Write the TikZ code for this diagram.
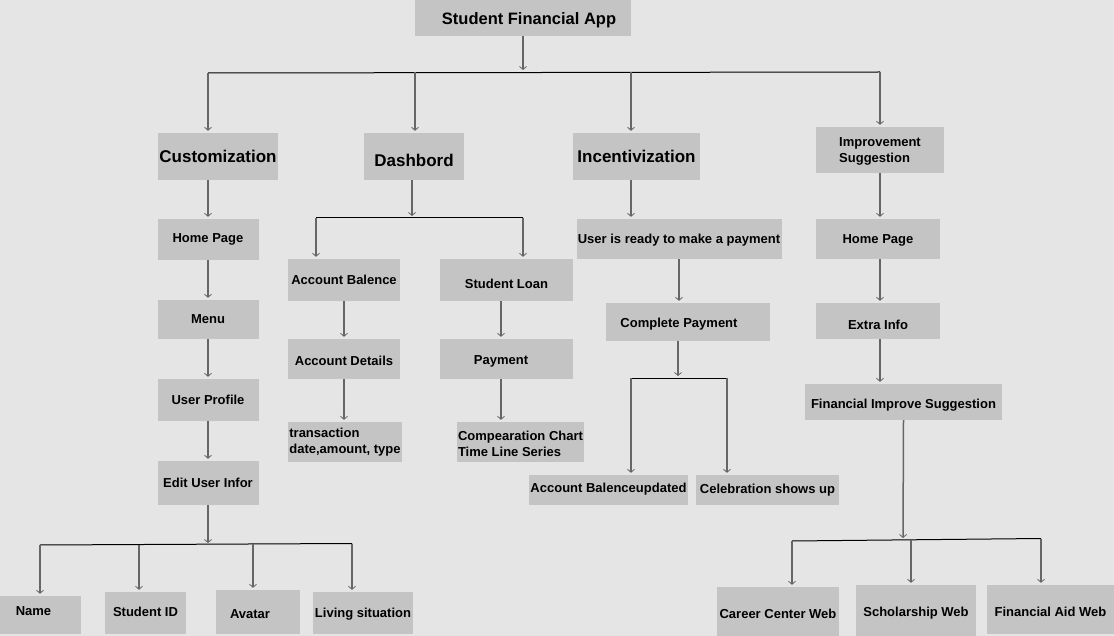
\documentclass[tikz,border=0pt]{standalone}
\usepackage{fontspec}
\setmainfont{Liberation Sans}
\usetikzlibrary{arrows.meta}
\definecolor{bgc}{HTML}{E5E5E5}
\definecolor{boxc}{HTML}{C4C4C4}
\definecolor{linec}{HTML}{666666}
\newcommand\smallf{\fontsize{13}{16}\selectfont\bfseries}
\newcommand\bigf{\fontsize{17}{20}\selectfont\bfseries}
% lower a text by #1 without changing its reported size
\newcommand\dn[2]{\raisebox{-#1}[\height][\depth]{#2}}
\tikzset{
  box/.style={fill=boxc, inner sep=0pt, align=center, font=\smallf, text=black},
  bigbox/.style={box, font=\bigf},
  vl/.style={draw=linec, line width=1.5pt, -{Straight Barb[length=3pt,width=7pt,line width=0.8pt]}, shorten >=2pt},
  hl/.style={draw=black, line width=1pt},
}
\begin{document}
\begin{tikzpicture}[x=1pt,y=-1pt]
\fill[bgc] (0,0) rectangle (1114,636);
\useasboundingbox (0,0) rectangle (1114,636);

% top
\node[box, font=\fontsize{16.5}{20}\selectfont\bfseries, minimum width=216, minimum height=36] (app) at (523,18) {\dn{2pt}{\hspace{12pt}Student Financial App}};
\node[bigbox, minimum width=120, minimum height=47] (cust) at (218,156.5) {Customization};
\node[bigbox, minimum width=100, minimum height=47] (dash) at (414,156.5) {\dn{4pt}{Dashbord}};
\node[bigbox, minimum width=127, minimum height=47] (inc) at (636.5,156.5) {Incentivization};
\node[box, minimum width=128, minimum height=46, align=left] (imp) at (880,150) {\dn{1pt}{Improvement}\\\dn{1pt}{Suggestion}};

% customization column
\node[box, minimum width=101, minimum height=41] (home1) at (208,239.5) {Home Page};
\node[box, minimum width=101, minimum height=39] (menu) at (208,319.5) {Menu};
\node[box, minimum width=101, minimum height=42] (prof) at (208,400) {User Profile};
\node[box, minimum width=101, minimum height=44] (edit) at (208,483) {Edit User Infor};
\node[box, minimum width=81, minimum height=38] (name) at (40.5,615) {\dn{-4pt}{\hspace{-14pt}Name}};
\node[box, minimum width=81, minimum height=42] (sid) at (145.5,613) {\dn{-1pt}{Student ID}};
\node[box, minimum width=84, minimum height=44] (avatar) at (258,612) {\dn{2pt}{\hspace{-16pt}Avatar}};
\node[box, minimum width=100, minimum height=42] (living) at (363,613) {\dn{1pt}{Living situation}};

% dashboard column
\node[box, minimum width=112, minimum height=42] (accb) at (344,280) {Account Balence};
\node[box, minimum width=112, minimum height=40] (accd) at (344,359) {\dn{2pt}{Account Details}};
\node[box, minimum width=114, minimum height=40, align=left] (trans) at (345,442) {transaction\\date,amount, type};
\node[box, minimum width=133, minimum height=42] (loan) at (506.5,280) {\dn{4pt}{Student Loan}};
\node[box, minimum width=133, minimum height=40] (pay) at (506.5,359) {\dn{2pt}{\hspace{-11pt}Payment}};
\node[box, minimum width=127, minimum height=40, align=left] (comp) at (520.5,442) {\dn{1.5pt}{Compearation Chart}\\\dn{1.5pt}{Time Line Series}};

% incentivization column
\node[box, minimum width=205, minimum height=40] (ready) at (679,239) {\dn{1pt}{User is ready to make a payment}};
\node[box, minimum width=164, minimum height=38] (cpay) at (688,322) {\dn{2pt}{\hspace{-18pt}Complete Payment}};
\node[box, minimum width=159, minimum height=30] (abu) at (608.5,490) {\dn{-1pt}{Account Balenceupdated}};
\node[box, minimum width=143, minimum height=30] (cel) at (767.5,490) {Celebration shows up};

% improvement column
\node[box, minimum width=124, minimum height=40] (home2) at (878,239) {\dn{1pt}{Home Page}};
\node[box, minimum width=124, minimum height=36] (extra) at (878,321) {\dn{4pt}{Extra Info}};
\node[box, minimum width=197, minimum height=36] (fis) at (903.5,402) {\dn{3pt}{Financial Improve Suggestion}};
\node[box, minimum width=122, minimum height=49] (career) at (778,611.5) {\dn{2pt}{Career Center Web}};
\node[box, minimum width=120, minimum height=51] (schol) at (916,610.5) {\dn{3pt}{Scholarship Web}};
\node[box, minimum width=127, minimum height=49] (faid) at (1050.5,609.5) {\dn{2pt}{Financial Aid Web}};

% coordinates for buses
\coordinate (tb) at (523,72);
\coordinate (t1) at (208,73);
\coordinate (t2) at (415,72.5);
\coordinate (t3) at (631,72.3);
\coordinate (t4) at (880,72);
\coordinate (eb) at (208,545);
\coordinate (e1) at (40,545);
\coordinate (e2) at (139,544.5);
\coordinate (e3) at (253,544);
\coordinate (e4) at (352,543.5);
\coordinate (db) at (412,218);
\coordinate (d1) at (316,218);
\coordinate (d2) at (523,218);
\coordinate (cb) at (678,378);
\coordinate (c1) at (631,378);
\coordinate (c2) at (727,378);
\coordinate (fb) at (903,540);
\coordinate (f1) at (792,541);
\coordinate (f2) at (911,540);
\coordinate (f3) at (1041,538.5);

% top level
\draw[vl] (app.south) -- (tb);
\draw[hl] (t1) -- (t4);
\draw[vl] (t1) -- (t1 |- cust.north);
\draw[vl] (t2) -- (t2 |- dash.north);
\draw[vl] (t3) -- (t3 |- inc.north);
\draw[vl] (t4) -- (t4 |- imp.north);

% customization
\draw[vl] (home1.north |- cust.south) -- (home1.north);
\draw[vl] (home1.south) -- (menu.north);
\draw[vl] (menu.south) -- (prof.north);
\draw[vl] (prof.south) -- (edit.north);
\draw[vl] (edit.south) -- (eb);
\draw[hl] (e1) -- (e4);
\draw[vl] (e1) -- (e1 |- name.north);
\draw[vl] (e2) -- (e2 |- sid.north);
\draw[vl] (e3) -- (e3 |- avatar.north);
\draw[vl] (e4) -- (e4 |- living.north);

% dashboard
\draw[vl] (db |- dash.south) -- (db);
\draw[hl] (d1) -- (d2);
\draw[vl] (d1) -- (d1 |- accb.north);
\draw[vl] (d2) -- (d2 |- loan.north);
\draw[vl] (accb.south) -- (accd.north);
\draw[vl] (accd.south) -- (accd.south |- trans.north);
\draw[vl] ([xshift=-5.5pt]loan.south) -- ([xshift=-5.5pt]pay.north);
\draw[vl] ([xshift=-5.5pt]pay.south) -- ([xshift=-5.5pt]pay.south |- comp.north);

% incentivization
\draw[vl] ([xshift=-5.5pt]inc.south) -- ([xshift=-5.5pt]inc.south |- ready.north);
\draw[vl] (ready.south) -- (ready.south |- cpay.north);
\draw[vl] (cb |- cpay.south) -- (cb);
\draw[hl] (c1) -- (c2);
\draw[vl] (c1) -- (c1 |- abu.north);
\draw[vl] (c2) -- (c2 |- cel.north);

% improvement
\draw[vl] (imp.south) -- (imp.south |- home2.north);
\draw[vl] ([xshift=2pt]home2.south) -- ([xshift=2pt]extra.north);
\draw[vl] ([xshift=2pt]extra.south) -- ([xshift=2pt]extra.south |- fis.north);
\draw[vl] (fis.south) -- (fb);
\draw[hl] (f1) -- (f3);
\draw[vl] (f1) -- (f1 |- career.north);
\draw[vl] (f2) -- (f2 |- schol.north);
\draw[vl] (f3) -- (f3 |- faid.north);
\end{tikzpicture}
\end{document}
